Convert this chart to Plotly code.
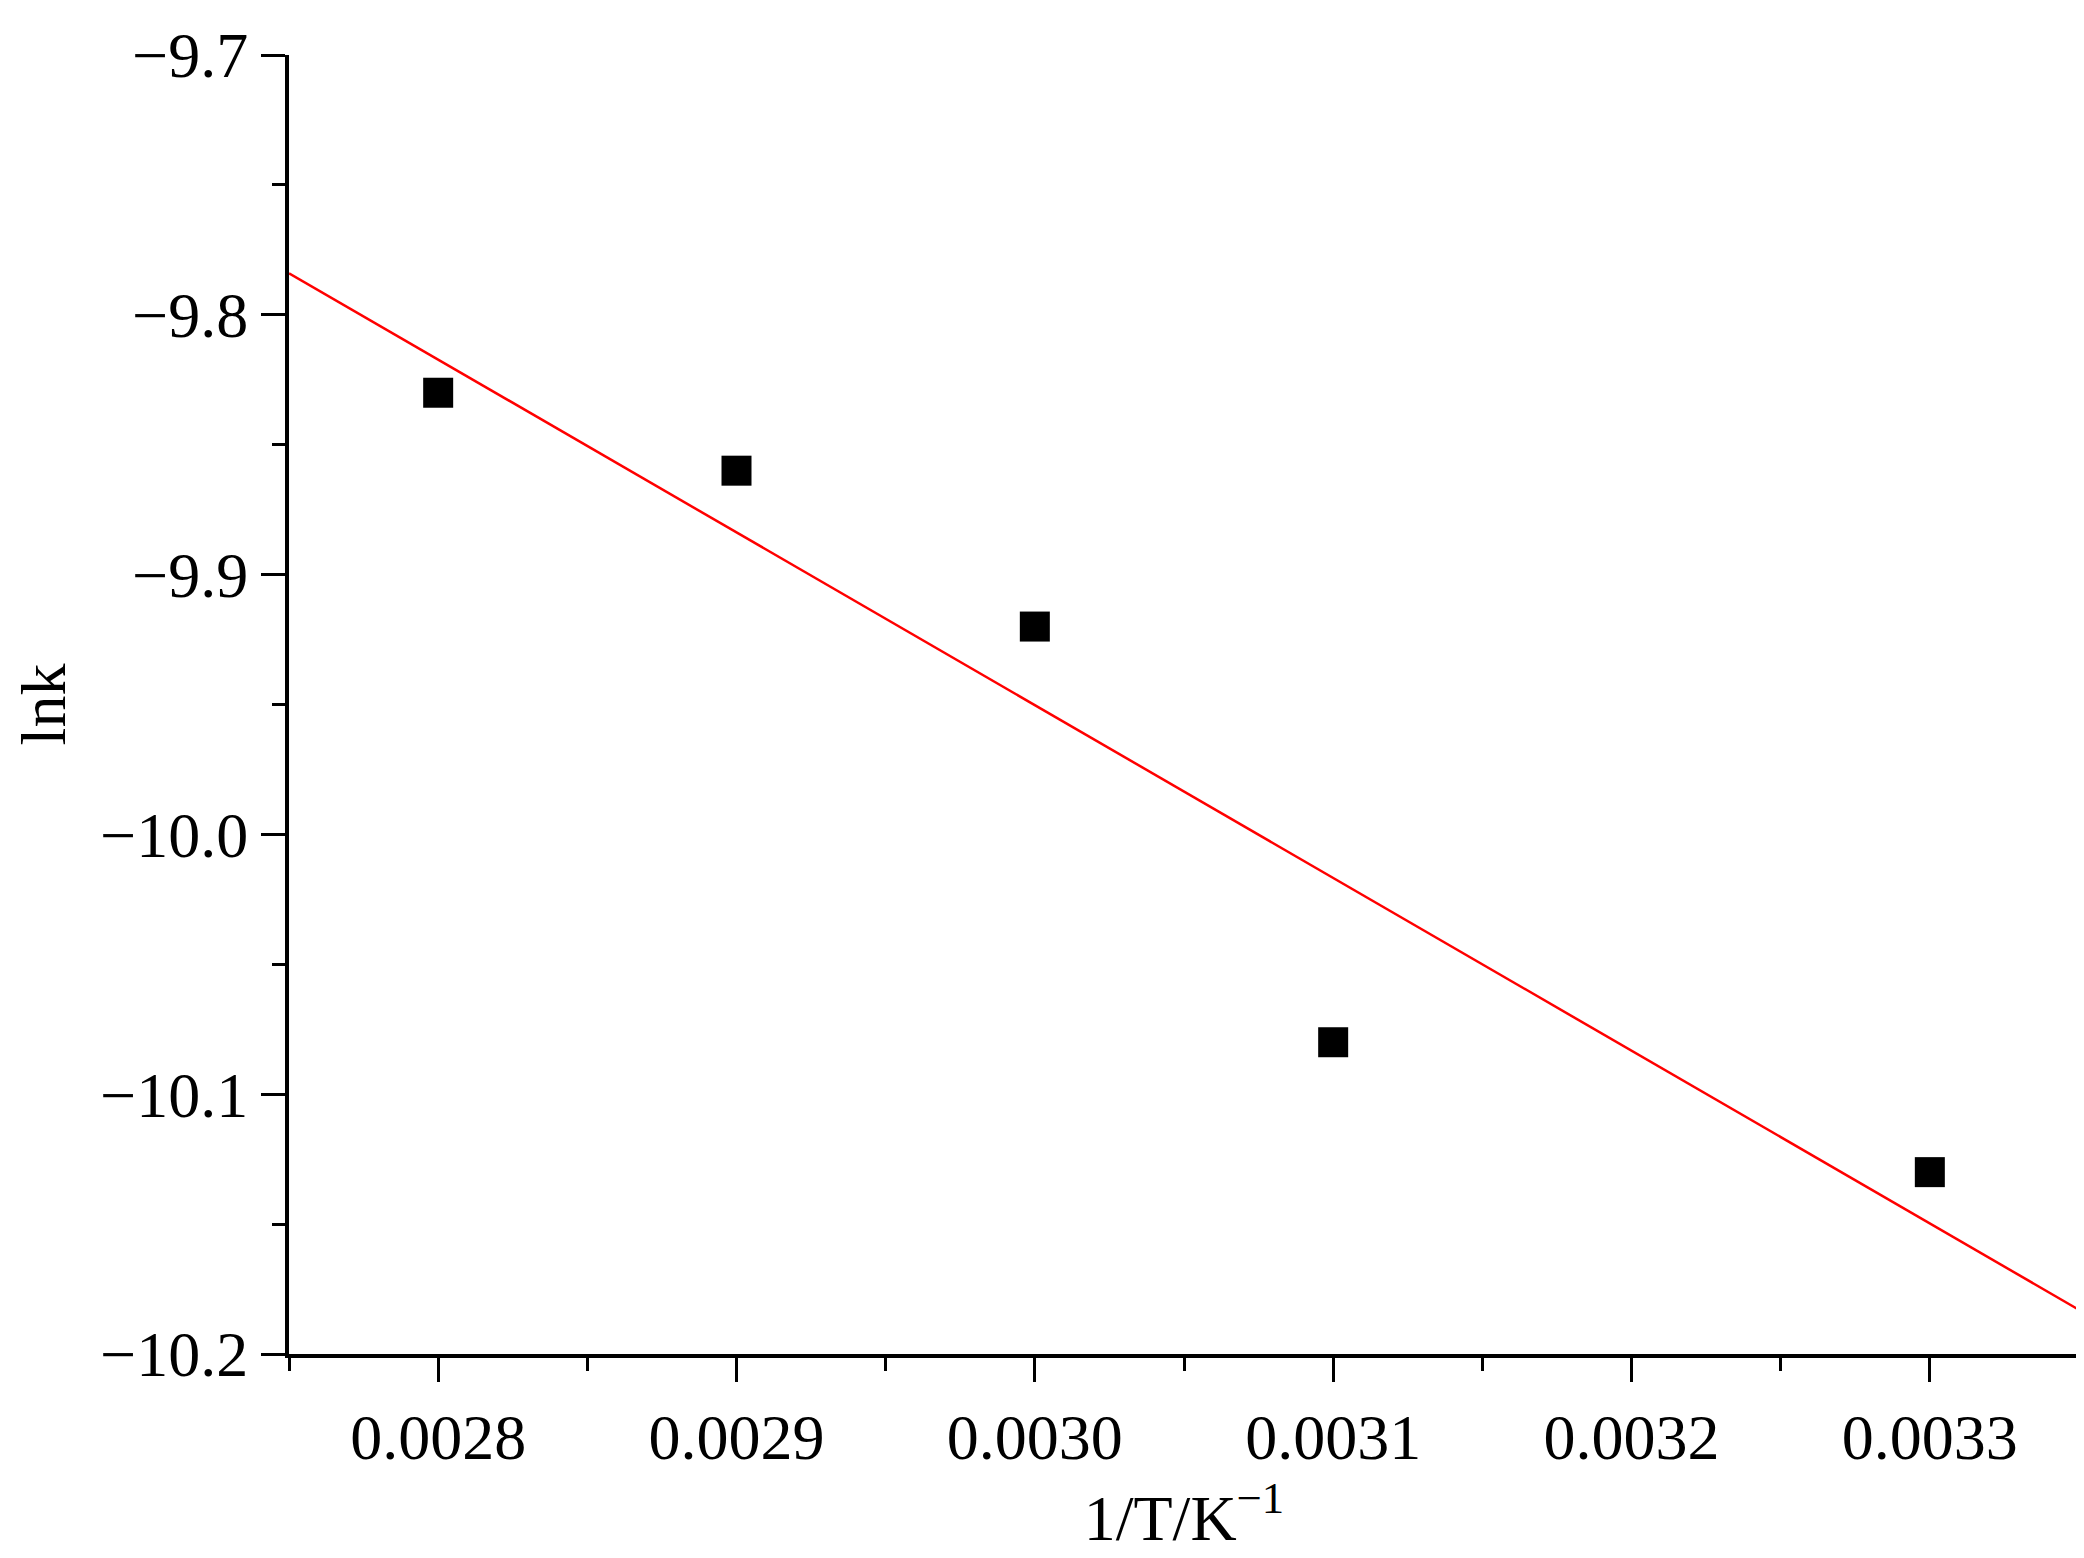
import plotly.graph_objects as go

inv_T = [0.0028, 0.0029, 0.0030, 0.0031, 0.0033]
ln_k = [-9.83, -9.86, -9.92, -10.08, -10.13]
fit_x = [0.00275, 0.00335]
fit_y = [-9.784, -10.183]
x_ticks = [0.0028, 0.0029, 0.0030, 0.0031, 0.0032, 0.0033]
x_labels = ["0.0028", "0.0029", "0.0030", "0.0031", "0.0032", "0.0033"]
y_ticks = [-9.7, -9.8, -9.9, -10.0, -10.1, -10.2]
y_labels = ["−9.7", "−9.8", "−9.9", "−10.0", "−10.1", "−10.2"]

font = "Liberation Serif"
fig = go.Figure()
fig.add_trace(go.Scatter(x=fit_x, y=fit_y, mode="lines", line=dict(color="red", width=2.5), showlegend=False))
fig.add_trace(go.Scatter(x=inv_T, y=ln_k, mode="markers",
                         marker=dict(symbol="square", size=30, color="black"), showlegend=False))
axis_common = dict(showgrid=False, zeroline=False, showline=True, linecolor="black", linewidth=4,
                   ticks="outside", ticklen=24, tickwidth=3, tickcolor="black",
                   tickfont=dict(family=font, size=64, color="black"),
                   minor=dict(ticks="outside", ticklen=13, tickwidth=3, tickcolor="black"))
fig.update_xaxes(range=[0.00275, 0.00335], tickvals=x_ticks, ticktext=x_labels,
                 title=dict(text="1/T/K<sup>−1</sup>", font=dict(family=font, size=64, color="black"), standoff=18),
                 minor_dtick=0.00005, **axis_common)
fig.update_yaxes(range=[-10.2, -9.7], tickvals=y_ticks, ticktext=y_labels,
                 title=dict(text="lnk", font=dict(family=font, size=64, color="black"), standoff=20),
                 minor_dtick=0.05, **axis_common)
fig.update_layout(width=2084, height=1558, plot_bgcolor="white", paper_bgcolor="white",
                  margin=dict(l=281, r=13, t=43, b=212))
fig.write_html("out.html")
